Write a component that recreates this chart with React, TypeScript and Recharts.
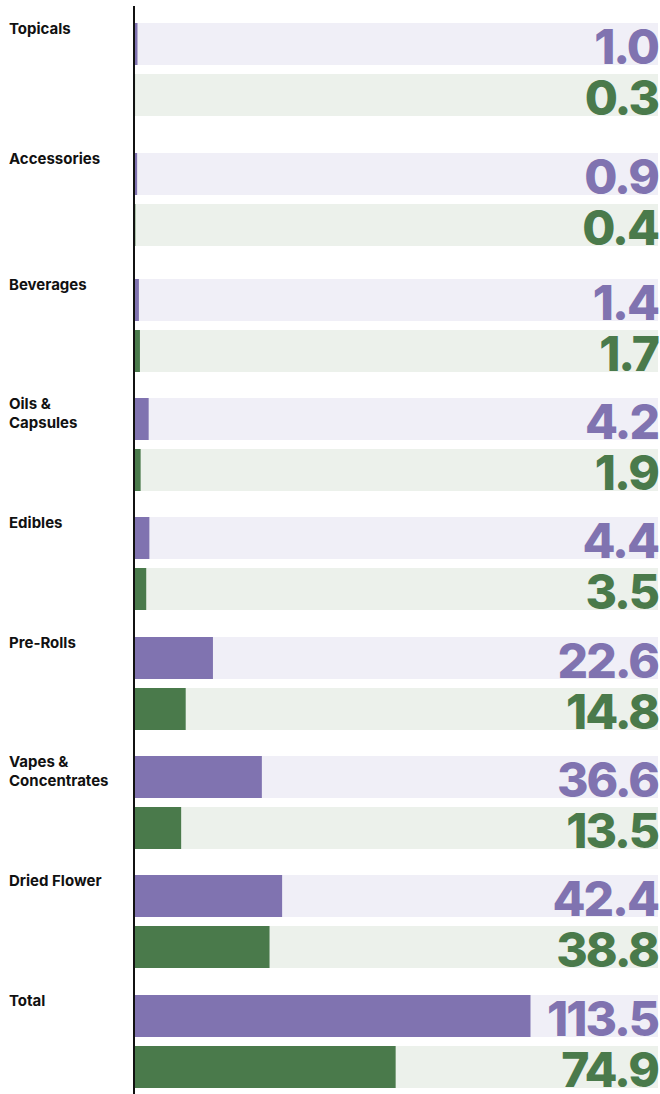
import React from "react";
import { BarChart, Bar, XAxis, YAxis, LabelList } from "recharts";

const categories = [
  "Topicals",
  "Accessories",
  "Beverages",
  "Oils & Capsules",
  "Edibles",
  "Pre-Rolls",
  "Vapes & Concentrates",
  "Dried Flower",
  "Total",
];
const purpleValues = [1.0, 0.9, 1.4, 4.2, 4.4, 22.6, 36.6, 42.4, 113.5];
const greenValues = [0.3, 0.4, 1.7, 1.9, 3.5, 14.8, 13.5, 38.8, 74.9];
const xDomain: [number, number] = [0, 150];

// layout: vertical pitch of each row group (px)
const rowPitch = [130, 126, 119, 119, 120, 119, 119, 120, 100];
const TOP_OFFSET = 6;
const FIRST_PAD = 16;
const ROW_PAD = 10;

const PURPLE = "#8073b0";
const GREEN = "#4a7a4b";
const PURPLE_BG = "#f0eff7";
const GREEN_BG = "#ecf1eb";

const CHART_W = 660;
const MARGIN = { top: 0, right: 2, bottom: 0, left: 0 };
const RIGHT_EDGE = CHART_W - MARGIN.right;
const BAR = 42;
const GAP = 9;
const GROUP = BAR * 2 + GAP;
const BAND = GROUP + 1;

const LeftTick = (props: any) => {
  const { y, payload } = props;
  const lines = String(payload.value).replace(" & ", " &\n").split("\n");
  const base = y - BAND / 2 + 12;
  return (
    <g>
      {lines.map((l, i) => (
        <text
          key={i}
          x={9}
          y={base + i * 19}
          fill="#111"
          fontFamily="Inter, sans-serif"
          fontWeight={700}
          fontSize={15}
          textAnchor="start"
        >
          {l}
        </text>
      ))}
    </g>
  );
};

const makeValueLabel = (color: string) => (props: any) => {
  const { y, height, value } = props;
  return (
    <text
      x={RIGHT_EDGE}
      y={y + height - 1.5}
      fill={color}
      fontFamily="Inter, sans-serif"
      fontWeight={800}
      fontSize={48}
      letterSpacing={-2}
      textAnchor="end"
    >
      {Number(value).toFixed(1)}
    </text>
  );
};

function GroupChart({ index }: { index: number }) {
  const row = [
    {
      name: categories[index],
      purple: purpleValues[index],
      green: greenValues[index],
    },
  ];
  const last = index === categories.length - 1;
  const padTop = index === 0 ? FIRST_PAD : ROW_PAD;
  const height = padTop + rowPitch[index] - (last ? 0 : ROW_PAD);
  const padBottom = height - padTop - BAND;
  return (
    <BarChart
      width={CHART_W}
      height={height}
      data={row}
      layout="vertical"
      margin={MARGIN}
      barSize={BAR}
      barGap={GAP}
      barCategoryGap={0}
      style={{ display: "block" }}
    >
      <XAxis type="number" domain={xDomain} hide />
      <YAxis
        type="category"
        dataKey="name"
        width={134}
        padding={{ top: padTop, bottom: padBottom }}
        axisLine={{ stroke: "#111", strokeWidth: 2 }}
        tickLine={false}
        tick={<LeftTick />}
        interval={0}
      />
      <Bar
        dataKey="purple"
        fill={PURPLE}
        background={{ fill: PURPLE_BG }}
        isAnimationActive={false}
      >
        <LabelList dataKey="purple" content={makeValueLabel(PURPLE)} />
      </Bar>
      <Bar
        dataKey="green"
        fill={GREEN}
        background={{ fill: GREEN_BG }}
        isAnimationActive={false}
      >
        <LabelList dataKey="green" content={makeValueLabel(GREEN)} />
      </Bar>
    </BarChart>
  );
}

export default function App() {
  return (
    <div
      style={{
        position: "absolute",
        left: 0,
        top: 0,
        width: 660,
        height: 1094,
        overflow: "hidden",
        background: "#fff",
      }}
    >
      <div style={{ position: "absolute", left: 0, top: TOP_OFFSET }}>
        {categories.map((c, i) => (
          <GroupChart key={c} index={i} />
        ))}
      </div>
    </div>
  );
}
